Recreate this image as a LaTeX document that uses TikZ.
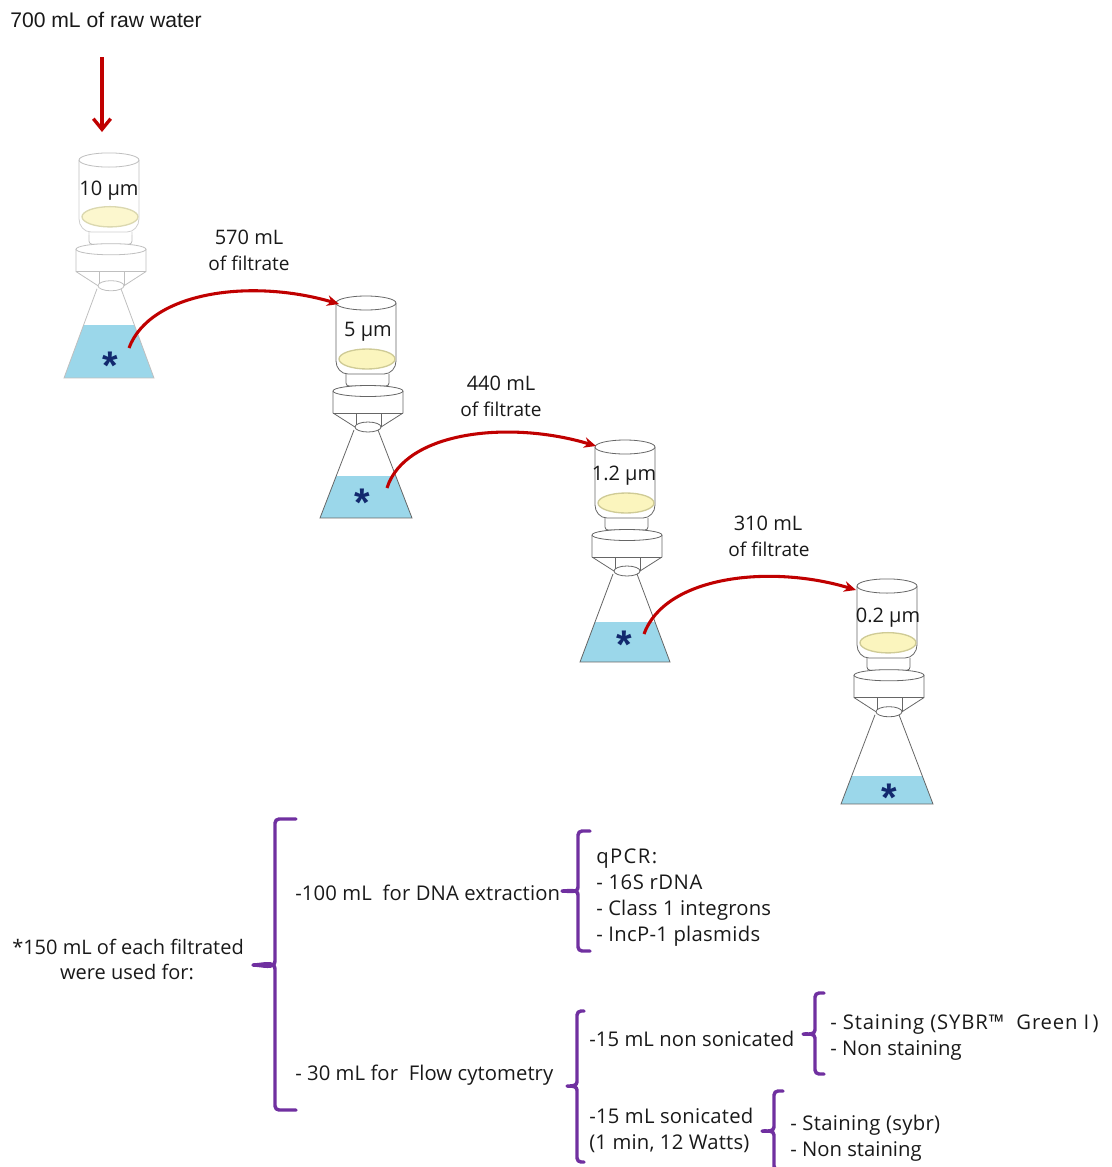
\documentclass[tikz,border=0pt]{standalone}
\usepackage{fontspec}
\setmainfont{Open Sans}
\newfontfamily\arialf{Liberation Sans}
\usetikzlibrary{arrows.meta}
\definecolor{arrowred}{HTML}{C00000}
\definecolor{bracepurple}{HTML}{7030A0}
\definecolor{waterblue}{HTML}{9BD7EA}
\definecolor{filteryellow}{HTML}{FBF5BE}
\definecolor{filteredge}{HTML}{CFCB96}
\definecolor{starblue}{HTML}{12296E}
\newcommand{\ls}[2]{{\addfontfeature{LetterSpace=#1}#2}}
\tikzset{
  x=0.75pt,y=-0.75pt,
  lab/.style={font=\fontsize{15pt}{18pt}\selectfont,inner sep=0pt,text=black!90,anchor=base},
  labs/.style={lab,font=\fontsize{14.3pt}{18pt}\selectfont},
  labl/.style={lab,font=\fontsize{15.2pt}{18pt}\selectfont,anchor=base west},
  flow/.style={draw=arrowred,line width=2.3pt,-{Stealth[length=9pt,width=8pt]}},
  brace/.style={draw=bracepurple,line width=2.6pt,line cap=round,line join=round},
  star/.style={font=\arialf\bfseries\fontsize{30pt}{30pt}\selectfont,text=starblue,inner sep=0pt},
  flaskline/.style={draw=#1,line width=0.6pt},
}
% #1 scope options, #2 water top (relative), #3 line colour, #4 half-width of base
\newcommand{\flaskdraw}[4]{%
\begin{scope}[#1]
  \begin{scope}
    \clip (-12,127) -- (-#4,215) -- (#4,215) -- (12,127) -- cycle;
    \fill[waterblue] (-60,#2) rectangle (60,215);
  \end{scope}
  \draw[flaskline=#3] (-12,127) -- (-#4,215) -- (#4,215) -- (12,127);
  \draw[flaskline=#3] (-30,0) -- (-30,58) to[out=-90,in=180] (-18,71) -- (18,71) to[out=0,in=-90] (30,58) -- (30,0);
  \draw[flaskline=#3,fill=white] (0,0) ellipse (30 and 7);
  \draw[draw=filteredge,line width=1pt,fill=filteryellow] (1,56) ellipse (28 and 10);
  \draw[flaskline=#3] (-20,71) -- (-20,80) to[out=-90,in=180] (-17,83) -- (20,83) to[out=0,in=-90] (23,80) -- (23,71);
  \draw[flaskline=#3] (-33,88) -- (-33,110) -- (-11,124) (37,88) -- (37,110) -- (15,124);
  \draw[flaskline=#3,fill=white] (2,88) ellipse (35 and 5.5);
  \draw[flaskline=#3] (-33,110) -- (37,110);
  \draw[flaskline=#3] (-10,110) -- (-10,124) (15,110) -- (15,124);
  \draw[flaskline=#3,fill=white] (2,124) ellipse (13 and 5);
\end{scope}}
\begin{document}
\begin{tikzpicture}
\useasboundingbox (0,0) rectangle (1112,1167);
\flaskdraw{shift={(109,160)},yscale=1.014}{163}{black!25}{45}
\fill[white,opacity=0.25] (75,190) rectangle (145,235);
\flaskdraw{shift={(366,303)}}{173}{black!60}{46}
\flaskdraw{shift={(625,447)}}{175}{black!60}{45}
\flaskdraw{shift={(887,586)},yscale=1.014}{187}{black!60}{46}

\node[inner sep=0pt,anchor=base west,text=black!90,font=\arialf\fontsize{15.85pt}{18pt}\selectfont] (rawwater) at (10,27.5) {700 mL of raw water};
\coordinate (rawtop) at (102,57);
\coordinate (rawend) at (102,132);
\draw[draw=arrowred,line width=2.5pt,-{Straight Barb[length=8pt,width=13pt]}] (rawtop) -- (rawend);

\node[lab] (m1) at (109,195) {10 µm};
\node[lab] (m2) at (368,336) {5 µm};
\node[lab] (m3) at (624,480) {1.2 µm};
\node[lab] (m4) at (888,622) {0.2 µm};

\node[star] (s1) at (110,366) {*};
\node[star] (s2) at (362,503) {*};
\node[star] (s3) at (624,645) {*};
\node[star] (s4) at (889,798) {*};

\coordinate (a1) at (129,348);
\coordinate (a2) at (387,488);
\coordinate (a3) at (644,634);
\coordinate (b1) at (339,304);
\coordinate (b2) at (596,446);
\coordinate (b3) at (856,590);
\draw[flow] (a1) .. controls (150,292) and (250,278) .. (b1);
\draw[flow] (a2) .. controls (405,431) and (510,420) .. (b2);
\draw[flow] (a3) .. controls (665,576) and (770,564) .. (b3);

\node[lab] (f1a) at (249,244) {570 mL};
\node[labs] (f1b) at (249,270) {of filtrate};
\node[lab] (f2a) at (501,390) {440 mL};
\node[labs] (f2b) at (501,416) {of filtrate};
\node[lab] (f3a) at (768,530) {310 mL};
\node[labs] (f3b) at (769,556) {of filtrate};

\node[lab] (u1) at (128,954) {*150 mL of each filtrated};
\node[lab] (u2) at (127,979) {were used for:};
\node[labl] (dna) at (295,900) {\ls{0.7}{-100 mL\ \ for DNA extraction}};
\node[labl] (flowc) at (295,1080) {\ls{0.4}{- 30 mL for\ \ Flow cytometry}};
\node[labl] (q0) at (596,863) {\ls{7}{qPCR:}};
\node[labl] (q1) at (596,889) {\ls{2.5}{- 16S\ rDNA}};
\node[labl] (q2) at (596,915) {\ls{1}{- Class 1 integrons}};
\node[labl] (q3) at (596,941) {\ls{1.5}{- IncP-1 plasmids}};
\node[labl] (n1) at (589,1046) {\ls{0.5}{-15 mL non sonicated}};
\node[labl] (n2) at (830,1029) {\ls{4}{- Staining (SYBR™\ \ Green I\,)}};
\node[labl] (n3) at (830,1055) {- Non staining};
\node[labl] (so1) at (589,1123) {\ls{1.2}{-15 mL sonicated}};
\node[labl] (so2) at (589,1149) {\ls{1}{(1 min, 12 Watts)}};
\node[labl] (st1) at (790,1130) {\ls{1.6}{- Staining (sybr)}};
\node[labl] (st2) at (790,1156) {- Non staining};

\newcommand{\bracepath}[6]{% x, top, bottom, tipx, tipy, right
  \draw[brace] (#6,#2) -- (#1+4,#2) to[out=180,in=90] (#1,#2+4) -- (#1,#5-4) to[out=-90,in=0] (#4,#5) to[out=0,in=90] (#1,#5+4) -- (#1,#3-4) to[out=-90,in=180] (#1+4,#3) -- (#6,#3);}
\bracepath{275}{819}{1110}{253}{965}{296}
\bracepath{578}{831}{951}{562}{891}{590}
\bracepath{577}{1011}{1162}{567}{1086}{584}
\bracepath{815}{993}{1074}{803}{1034}{824}
\bracepath{774}{1091}{1170}{762}{1131}{783}
\end{tikzpicture}
\end{document}
